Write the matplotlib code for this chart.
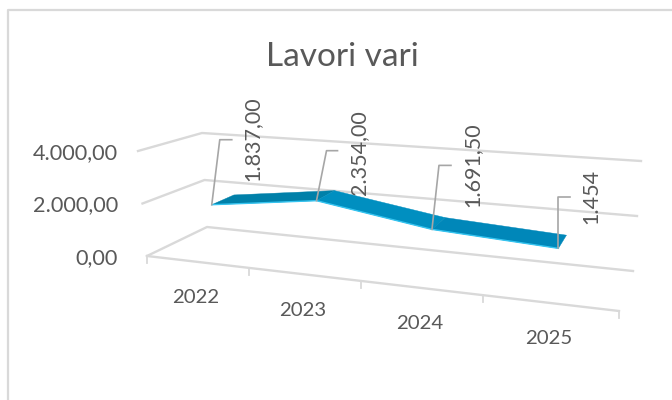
import matplotlib
matplotlib.use("Agg")
import matplotlib.pyplot as plt
from matplotlib.patches import Polygon

plt.rcParams["font.family"] = ["Lato", "DejaVu Sans"]

categories = ["2022", "2023", "2024", "2025"]
values = [1837.0, 2354.0, 1691.5, 1454.0]
value_labels = ["1.837,00", "2.354,00", "1.691,50", "1.454"]
axis_values = [0, 2000, 4000]
axis_labels = ["0,00", "2.000,00", "4.000,00"]
axis_max = 4000

GRID = "#D9D9D9"
LEADER = "#A6A6A6"
TEXT = "#595959"

# pixel corners of the fake 3d box: (front/back, left/right) at bottom and top
floor = {"fl": (147, 256), "fr": (619, 311), "bl": (207, 227), "br": (633, 271)}
top = {"fl": (138, 151), "fr": (628, 188), "bl": (202, 133), "br": (641, 161)}
persp = 0.827
ribbon_front = 0.32
ribbon_back = 0.71

# leader elbows (dx, dy, length) and label bottom centre, in pixels
leaders = [(8, -65, 12), (10, -50, 11), (7, -64, 12), (0, -51, 12)]
label_pos = [(252, 181), (359, 195), (472, 207), (591, 224)]
ribbon_colors = ["#0080A9", "#008FC0", "#0087B9"]


def lerp(a, b, t):
    return (a[0] + (b[0] - a[0]) * t, a[1] + (b[1] - a[1]) * t)


def project(u, depth, value):
    # u is the category position from 0 to n, depth 0 front to 1 back
    f = u / len(categories)
    s = f * persp / (1 + (persp - 1) * f)
    t = value / axis_max
    low = lerp(lerp(floor["fl"], floor["fr"], s), lerp(floor["bl"], floor["br"], s), depth)
    high = lerp(lerp(top["fl"], top["fr"], s), lerp(top["bl"], top["br"], s), depth)
    return lerp(low, high, t)


fig = plt.figure(figsize=(6.72, 4.0), dpi=100)
ax = fig.add_axes([0, 0, 1, 1])
ax.set_xlim(0, 672)
ax.set_ylim(400, 0)
ax.axis("off")

# chart frame, runs off the right and bottom of the picture
ax.plot([8, 8, 672], [400, 10, 10], color=GRID, lw=1.6, zorder=1)

ax.text(342, 57, "Lavori vari", ha="center", va="center", fontsize=24, color=TEXT)

# walls and floor
n = len(categories)
for v, lab in zip(axis_values, axis_labels):
    pts = [project(0, 0, v), project(0, 1, v), project(n, 1, v)]
    ax.plot([p[0] for p in pts], [p[1] for p in pts], color=GRID, lw=1.7, zorder=2)
    p = project(0, 0, v)
    ax.text(118, p[1] + 2, lab, ha="right", va="center", fontsize=15.6, color=TEXT)

p0 = project(0, 0, 0)
p1 = project(n, 0, 0)
ax.plot([p0[0], p1[0]], [p0[1], p1[1]], color=GRID, lw=1.7, zorder=2)
for i in range(n + 1):
    p = project(i, 0, 0)
    ax.plot([p[0], p[0]], [p[1], p[1] + 7], color=GRID, lw=1.3, zorder=2)

for i, cat in enumerate(categories):
    p = project(i + 0.5, 0, 0)
    ax.text(p[0] - 1, p[1] + 36, cat, ha="center", va="center", fontsize=14.7, color=TEXT)

# data labels go under the ribbon, the 2023 one is clipped by it
for lab, pos in zip(value_labels, label_pos):
    ax.text(pos[0], pos[1], lab, rotation=90, ha="center", va="bottom",
            fontsize=15.5, color=TEXT, zorder=3)

# ribbon
for i in range(n - 1):
    quad = [project(i + 0.5, ribbon_front, values[i]),
            project(i + 1.5, ribbon_front, values[i + 1]),
            project(i + 1.5, ribbon_back, values[i + 1]),
            project(i + 0.5, ribbon_back, values[i])]
    ax.add_patch(Polygon(quad, closed=True, facecolor=ribbon_colors[i],
                         edgecolor=ribbon_colors[i], lw=0.3, zorder=4))
front = [project(i + 0.5, ribbon_front, values[i]) for i in range(n)]
ax.plot([p[0] for p in front], [p[1] for p in front], color="#35C4F0", lw=1.0, zorder=5)

# leader lines
for i in range(n):
    x, y = project(i + 0.5, ribbon_front, values[i])
    dx, dy, length = leaders[i]
    ax.plot([x, x + dx, x + dx + length], [y, y + dy, y + dy], color=LEADER, lw=1.2, zorder=6)

fig.savefig("out.png", dpi=100)
